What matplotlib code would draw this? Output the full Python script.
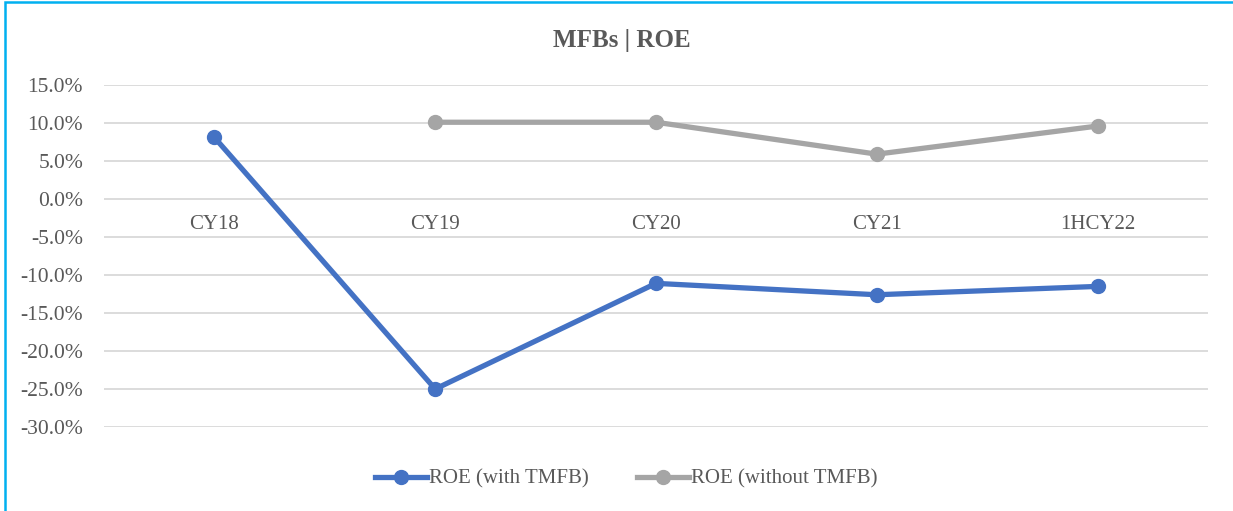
import numpy as np
import matplotlib
matplotlib.use("Agg")
import matplotlib.pyplot as plt
from matplotlib.patches import Rectangle
from matplotlib.lines import Line2D

categories = ["CY18", "CY19", "CY20", "CY21", "1HCY22"]
roe_with = [8.1, -25.0, -11.1, -12.6, -11.5]
roe_without = [np.nan, 10.1, 10.1, 5.9, 9.6]
yticks = [15, 10, 5, 0, -5, -10, -15, -20, -25, -30]

plt.rcParams['font.family'] = ['Liberation Serif', 'DejaVu Serif']
txt = '#595959'

fig = plt.figure(figsize=(12.33, 5.11), dpi=100)
fig.patches.append(Rectangle((5/1233, -0.1), 1.2, (509/511) + 0.1, transform=fig.transFigure,
                             fill=False, edgecolor='#00B0F0', linewidth=1.8))
ax = fig.add_axes([104/1233, 1-427/511, (1208-104)/1233, (427-85)/511])

x = np.arange(len(categories))
lw, ms = 3.8, 10
ax.plot(x, roe_with, color='#4472C4', linewidth=lw, marker='o', markersize=ms,
        solid_capstyle='round', label='ROE (with TMFB)', zorder=3)
ax.plot(x, roe_without, color='#A5A5A5', linewidth=lw, marker='o', markersize=ms,
        solid_capstyle='round', label='ROE (without TMFB)', zorder=3)

ax.set_xlim(-0.5, len(categories) - 0.5)
ax.set_ylim(-30, 15)
ax.set_yticks(yticks)
ax.set_yticklabels([f"{v:.1f}%" for v in yticks], color=txt, fontsize=15.5)
ax.tick_params(axis='y', length=0, pad=15)
ax.set_xticks([])
ax.grid(axis='y', color='#D9D9D9', linewidth=1.3)
ax.set_axisbelow(True)
for s in ax.spines.values():
    s.set_visible(False)

for i, c in enumerate(categories):
    ax.text(i, -3.4, c, ha='center', va='center', color=txt, fontsize=15)

fig.text(622/1233, 1-41/511, "MFBs | ROE", ha='center', va='center', color=txt,
         fontsize=18, fontweight='bold')

handles = [Line2D([], [], color='#4472C4', linewidth=lw, marker='o', markersize=ms),
           Line2D([], [], color='#A5A5A5', linewidth=lw, marker='o', markersize=ms)]
fig.legend(handles, ['ROE (with TMFB)', 'ROE (without TMFB)'], loc='center',
           bbox_to_anchor=(626/1233, 1-479/511), ncol=2, frameon=False,
           fontsize=15, labelcolor=txt, handlelength=2.5, handletextpad=0.1,
           columnspacing=2.3)

fig.savefig("out.png", dpi=100)
